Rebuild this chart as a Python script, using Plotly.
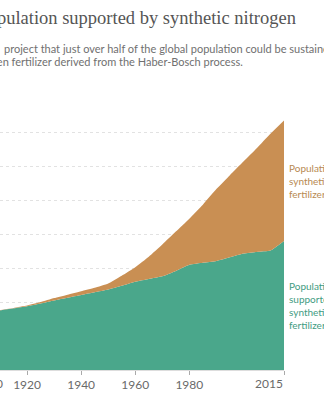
import plotly.graph_objects as go

# ---- data (billions of people) ----
years = [1900, 1905, 1910, 1915, 1920, 1925, 1930, 1935, 1940, 1945, 1950, 1955,
         1960, 1965, 1970, 1975, 1980, 1985, 1990, 1995, 2000, 2005, 2010, 2015]
total_population = [1.65, 1.71, 1.77, 1.83, 1.90, 2.00, 2.12, 2.22, 2.32, 2.42, 2.55, 2.78,
                    3.03, 3.34, 3.70, 4.08, 4.46, 4.87, 5.33, 5.74, 6.14, 6.54, 6.96, 7.35]
without_fertilizer = [1.65, 1.71, 1.76, 1.82, 1.88, 1.96, 2.05, 2.13, 2.21, 2.29, 2.37, 2.48,
                      2.60, 2.68, 2.76, 2.92, 3.10, 3.16, 3.21, 3.32, 3.43, 3.48, 3.52, 3.80]
tick_years = [1920, 1940, 1960, 1980, 2015]
tick_text = ["1920", "1940", "1960", "1980", ""]

title_text = "World population supported by synthetic nitrogen"
subtitle_1 = "project that just over half of the global population could be sustained without"
subtitle_2 = "without nitrogen fertilizer derived from the Haber-Bosch process."
label_top = "Population with<br>synthetic<br>fertilizers"
label_bottom = "Population<br>supported<br>synthetic<br>fertilizers"

GREEN = "#4aa78b"
BROWN = "#c98f53"
W, H = 324, 400

fig = go.Figure()
fig.add_trace(go.Scatter(x=years, y=without_fertilizer, mode="lines",
                         line=dict(width=0, color=GREEN, shape="spline", smoothing=0.4),
                         fill="tozeroy", fillcolor=GREEN, hoverinfo="skip"))
fig.add_trace(go.Scatter(x=years, y=total_population, mode="lines",
                         line=dict(width=0, color=BROWN, shape="spline", smoothing=0.4),
                         fill="tonexty", fillcolor=BROWN, hoverinfo="skip"))

def px_x(p):
    return p / W

def px_y(p):
    return (H - p) / H

annos = [
    dict(text=title_text, x=px_x(298), y=px_y(18), xanchor="right", yanchor="middle",
         font=dict(family="Liberation Serif", size=18.5, color="#555555")),
    dict(text=subtitle_1, x=px_x(2), y=px_y(48.5), xanchor="left", yanchor="middle",
         font=dict(family="Lato", size=11, color="#707070")),
    dict(text=subtitle_2, x=px_x(245), y=px_y(61.5), xanchor="right", yanchor="middle",
         font=dict(family="Lato", size=11, color="#707070")),
    dict(text=label_top, x=px_x(287), y=px_y(181), xanchor="left", yanchor="middle",
         align="left", font=dict(family="Lato", size=10, color="#b88a52")),
    dict(text=label_bottom, x=px_x(287), y=px_y(305), xanchor="left", yanchor="middle",
         align="left", font=dict(family="Lato", size=10, color="#3f9c82")),
    dict(text="2015", x=px_x(285), y=px_y(383), xanchor="right", yanchor="middle",
         font=dict(family="Lato", size=12, color="#6a6a6a")),
    dict(text="1900", x=px_x(-27), y=px_y(383), xanchor="left", yanchor="middle",
         font=dict(family="Lato", size=12, color="#6a6a6a")),
]
for a in annos:
    a.update(xref="paper", yref="paper", showarrow=False)

ymax = 260 / 33.94
fig.update_layout(
    width=W, height=H,
    margin=dict(l=0, r=0, t=0, b=0, pad=0),
    paper_bgcolor="white", plot_bgcolor="white",
    showlegend=False,
    annotations=annos,
    xaxis=dict(domain=[0, 284 / W], range=[1910, 2015], tickvals=tick_years,
               ticktext=tick_text, ticks="outside", ticklen=4, tickcolor="#aaaaaa",
               showline=True, linecolor="#dddddd", linewidth=1,
               showgrid=False, zeroline=False,
               tickfont=dict(family="Lato", size=12, color="#6a6a6a")),
    yaxis=dict(domain=[30 / H, (H - 110) / H], range=[0, ymax], dtick=1,
               showticklabels=False, showgrid=True, gridcolor="#e2e2e2",
               griddash="dot", gridwidth=1, zeroline=False, ticks=""),
)

fig.write_html("out.html")
